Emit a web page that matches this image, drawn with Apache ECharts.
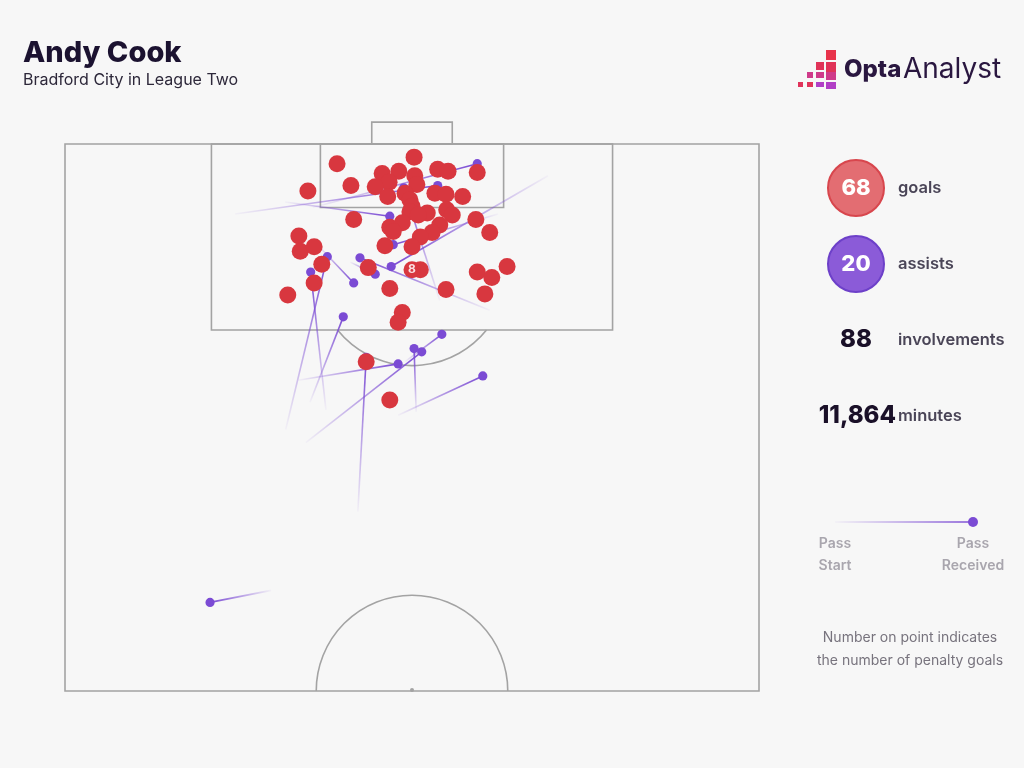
<!DOCTYPE html>
<html><head><meta charset="utf-8">
<script src="https://cdn.jsdelivr.net/npm/echarts@6/dist/echarts.min.js"></script>
<style>html,body{margin:0;padding:0;background:#f7f7f7}#c{width:1024px;height:768px}</style>
</head><body><div id="c"></div>
<script>
// ---- DATA (Opta-style pitch coords: [width 0-100, length 50-100]) ----
const goals = [
  [39.2,98.2],[50.3,98.8],[45.7,97.3],[48.1,97.5],[46.7,96.5],[50.4,97.1],[50.7,96.3],
  [53.7,97.7],[55.2,97.5],[59.4,97.4],[35.0,95.7],[41.2,96.2],[44.7,96.1],[46.5,95.2],
  [49.0,95.5],[49.7,94.9],[53.3,95.5],[54.9,95.4],[57.3,95.2],[50.0,94.3],[49.7,93.8],
  [52.2,93.7],[55.0,94.0],[55.8,93.5],[50.9,93.5],[41.6,93.1],[59.2,93.1],[46.8,92.4],
  [48.6,92.8],[47.3,92.0],[54.0,92.6],[52.9,91.9],[51.2,91.5],[61.2,91.9],[33.7,91.6],
  [33.9,90.2],[35.9,90.6],[46.1,90.7],[50.0,90.6],[37.0,89.0],[43.7,88.7],[51.2,88.5],
  [59.4,88.3],[61.5,87.8],[63.7,88.8],[35.9,87.3],[46.8,86.8],[54.9,86.7],[60.5,86.3],
  [32.1,86.2],[48.6,84.6],[48.0,83.7],[43.4,80.1],[46.8,76.6]
];
const penaltyGoals = [[50.0,88.5,8]];
const assistStart = [
  [35.7,94.2],[24.5,93.6],[54.0,85.7],[31.7,94.7],[62.4,93.6],[61.2,84.8],[69.6,97.1],
  [41.1,89.2],[31.8,73.9],[37.6,75.7],[36.5,90.7],[35.3,76.4],[49.0,80.1],[50.6,75.5],
  [34.7,72.7],[33.6,78.4],[42.2,66.4],[48.0,75.2],[29.7,59.2]
];
const assistEnd = [
  [59.4,98.2],[53.7,96.2],[48.8,96.0],[46.8,93.4],[47.3,90.8],[42.5,89.6],[47.0,88.8],
  [44.7,88.1],[37.8,89.7],[35.4,88.3],[41.6,87.3],[40.1,84.2],[54.3,82.6],[50.3,81.3],
  [51.4,81.0],[48.0,79.9],[43.4,80.5],[60.2,78.8],[20.9,58.1]
];
const statValues = ['68','20','88','11,864'];
const statLabels = ['goals','assists','involvements','minutes'];
const legendLabels = [['Pass','Start'],['Pass','Received']];
const noteLines = ['Number on point indicates','the number of penalty goals'];

// ---- STYLE ----
const LINE = '#a3a3a3';
const RED = '#d8373f';
const PURPLE = '#7b4bd4';
const FONT = 'Inter, "Noto Sans", sans-serif';

const assistData = assistStart.map((s,i)=>[s[0],s[1],assistEnd[i][0],assistEnd[i][1]]);

function renderPitch(params, api){
  const p = (w,l)=>api.coord([w,l]);
  const st = {fill:null, stroke:LINE, lineWidth:1.6};
  const rect = (w1,l1,w2,l2)=>{const a=p(w1,l1), b=p(w2,l2);
    return {type:'rect', shape:{x:Math.min(a[0],b[0]), y:Math.min(a[1],b[1]), width:Math.abs(b[0]-a[0]), height:Math.abs(b[1]-a[1])}, style:st};};
  const r = api.size([13.8,0])[0];
  const spot = p(50,88.5);
  const edge = p(50,83)[1];
  const a = Math.asin(Math.min(1,(edge-spot[1])/r));
  const cc = p(50,50);
  return {type:'group', children:[
    rect(0,50,100,100),
    rect(21.1,83,78.9,100),
    rect(36.8,94.2,63.2,100),
    rect(44.2,100,55.8,102),
    {type:'arc', shape:{cx:spot[0], cy:spot[1], r:r, startAngle:a, endAngle:Math.PI-a, clockwise:true}, style:st},
    {type:'arc', shape:{cx:cc[0], cy:cc[1], r:r, startAngle:Math.PI, endAngle:2*Math.PI, clockwise:true}, style:st},
    {type:'circle', shape:{cx:cc[0], cy:cc[1]-1, r:2}, style:{fill:LINE}}
  ]};
}

function renderAssist(params, api){
  const s = api.coord([api.value(0), api.value(1)]);
  const e = api.coord([api.value(2), api.value(3)]);
  return {type:'group', children:[
    {type:'line', shape:{x1:s[0],y1:s[1],x2:e[0],y2:e[1]},
     style:{stroke:{type:'linear', x:s[0], y:s[1], x2:e[0], y2:e[1], global:true,
       colorStops:[{offset:0,color:'rgba(123,75,212,0.04)'},{offset:1,color:'rgba(123,75,212,1)'}]}, lineWidth:1.6}},
    {type:'circle', shape:{cx:e[0], cy:e[1], r:4.6}, style:{fill:PURPLE}}
  ]};
}

const chart = echarts.init(document.getElementById('c'), null, {renderer:'canvas'});

const statY = [188,264,340,416];
const graphics = [];
// logo
const logoCols = [
  {x:798, w:5, rows:[3]},
  {x:807, w:6, rows:[2,3]},
  {x:816, w:8, rows:[1,2,3]},
  {x:826, w:10, rows:[0,1,2,3]}
];
const rowY = [50,62,72,82];
const rowH = [10,8,6,5];
const rowCol = ['#e8334b','#e03358','#cf3a8a','#b13fc6'];
logoCols.forEach((c,ci)=>c.rows.forEach(r=>{
  const h = Math.min(c.w,rowH[r]+ (ci===3?2:0));
  graphics.push({type:'rect', shape:{x:c.x, y:rowY[r], width:c.w, height:h}, style:{fill: ci<2 && r===3 ? '#e0335a' : rowCol[r]}});
}));
graphics.push({type:'text', x:844, y:70, style:{text:'Opta', font:'800 24px '+FONT, fill:'#2a1740', verticalAlign:'middle'}});
graphics.push({type:'text', x:903, y:70, style:{text:'Analyst', font:'400 28px '+FONT, fill:'#2a1740', verticalAlign:'middle'}});
// stats
graphics.push({type:'circle', shape:{cx:856, cy:statY[0], r:28}, style:{fill:'#e36d72', stroke:'#d8464d', lineWidth:2}});
graphics.push({type:'circle', shape:{cx:856, cy:statY[1], r:28}, style:{fill:'#8b5bd8', stroke:'#6d40c9', lineWidth:2}});
statValues.forEach((v,i)=>{
  const light = i<2;
  graphics.push({type:'text', x: i===3 ? 896 : 856, y:statY[i], style:{text:v, font:'800 '+(light?22:24)+'px '+FONT,
    fill: light ? '#ffffff' : '#1a1028', align: i===3 ? 'right':'center', verticalAlign:'middle'}});
  graphics.push({type:'text', x:898, y:statY[i], style:{text:statLabels[i], font:'600 16.5px '+FONT, fill:'#4a4557', verticalAlign:'middle'}});
});
// legend line
graphics.push({type:'line', shape:{x1:835,y1:522,x2:973,y2:522}, style:{lineWidth:1.6,
  stroke:{type:'linear', x:835,y:0,x2:973,y2:0, global:true, colorStops:[{offset:0,color:'rgba(123,75,212,0.04)'},{offset:1,color:'rgba(123,75,212,1)'}]}}});
graphics.push({type:'circle', shape:{cx:973, cy:522, r:5}, style:{fill:PURPLE}});
[835,973].forEach((x,i)=>legendLabels[i].forEach((t,j)=>{
  graphics.push({type:'text', x:x, y:544+22*j, style:{text:t, font:'600 14px '+FONT, fill:'#a9a6ae', align:'center', verticalAlign:'middle'}});
}));
noteLines.forEach((t,j)=>graphics.push({type:'text', x:910, y:638+23*j, style:{text:t, font:'400 14px '+FONT, fill:'#77737d', align:'center', verticalAlign:'middle'}}));

chart.setOption({
  backgroundColor:'#f7f7f7',
  animation:false,
  title:{text:'Andy Cook', subtext:'Bradford City in League Two', left:18, top:34, itemGap:4,
    textStyle:{fontFamily:FONT, fontSize:29, fontWeight:800, color:'#1b1230'},
    subtextStyle:{fontFamily:FONT, fontSize:16, color:'#2d283a'}},
  grid:{left:65, top:144, width:694, height:547},
  xAxis:{type:'value', min:0, max:100, show:false},
  yAxis:{type:'value', min:50, max:100, show:false},
  graphic:graphics,
  series:[
    {type:'custom', name:'pitch', data:[[50,75]], renderItem:renderPitch, clip:false, silent:true, z:1},
    {type:'custom', name:'assists', data:assistData, encode:{x:[0,2], y:[1,3]}, renderItem:renderAssist, z:2},
    {type:'scatter', name:'goals', data:goals, symbolSize:17, itemStyle:{color:RED, opacity:1}, z:3},
    {type:'scatter', name:'penalties', data:penaltyGoals, symbolSize:17, itemStyle:{color:RED, opacity:1}, z:4,
      label:{show:true, position:'inside', formatter:p=>p.value[2], color:'#fbe0e2', fontSize:12, fontWeight:'bold', fontFamily:FONT}}
  ]
});
</script>
</body></html>
